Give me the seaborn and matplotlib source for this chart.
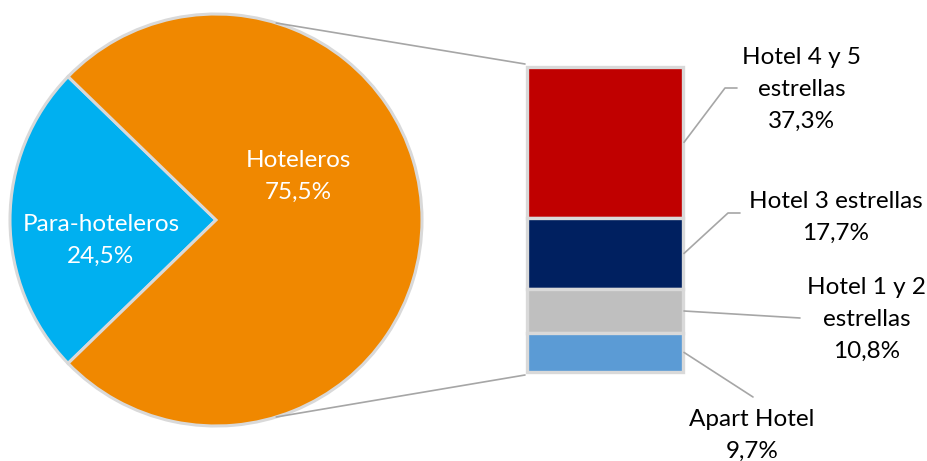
import matplotlib
matplotlib.use('Agg')
import matplotlib.pyplot as plt
import seaborn as sns
import numpy as np

# pie data
pie_labels = ['Para-hoteleros', 'Hoteleros']
pie_values = [24.5, 75.5]
pie_colors = ['#00B0F0', '#F08800']

# breakdown of Hoteleros
bar_labels = ['Hotel 4 y 5\nestrellas', 'Hotel 3 estrellas', 'Hotel 1 y 2\nestrellas', 'Apart Hotel']
bar_values = [37.3, 17.7, 10.8, 9.7]
bar_colors = ['#C00000', '#002060', '#BFBFBF', '#5B9BD5']


def pct(v):
    return f"{v:.1f}".replace('.', ',') + '%'


sns.set_style('white')
plt.rcParams['font.family'] = ['Lato', 'DejaVu Sans']

fig = plt.figure(figsize=(9.27, 4.61), dpi=100)
ax = fig.add_axes([0, 0, 1, 1])

# pie, Para-hoteleros centred on the left
cx, cy, r = 216, 220, 206
start = 180 - pie_values[0] / 100 * 360 / 2
wedges, _ = ax.pie(pie_values, colors=pie_colors, center=(cx, cy), radius=r,
                   startangle=start, counterclock=True,
                   wedgeprops=dict(edgecolor='#D9D9D9', linewidth=2.2), frame=True)
ax.set_xlim(0, 927)
ax.set_ylim(461, 0)
ax.set_aspect('equal')
ax.axis('off')

fs = 17.5
ls = 1.65
# va='baseline' -> y is the baseline of the last line
ax.text(101, 263, pie_labels[0] + '\n' + pct(pie_values[0]), color='white',
        ha='center', va='baseline', fontsize=fs, linespacing=ls)
ax.text(298, 199, pie_labels[1] + '\n' + pct(pie_values[1]), color='white',
        ha='center', va='baseline', fontsize=fs, linespacing=ls)

# stacked bar
bx, bw = 605, 156
top, total_h = 67, 305
scale = total_h / sum(bar_values)
bottoms = top + np.concatenate([[0], np.cumsum(bar_values)[:-1]]) * scale
heights = np.array(bar_values) * scale
ax.bar([bx] * len(bar_values), heights, bottom=bottoms, width=bw,
       color=bar_colors, edgecolor='#D9D9D9', linewidth=2.4)

# connector lines pie -> bar
ang = np.deg2rad(73)
ax.plot([cx + r * np.cos(ang), bx - bw / 2 - 2], [cy - r * np.sin(ang), top - 3],
        color='#A6A6A6', lw=1.2)
ax.plot([cx + r * np.cos(ang), bx - bw / 2 - 2], [cy + r * np.sin(ang), top + total_h + 3],
        color='#A6A6A6', lw=1.2)

# labels with leader lines
mids = bottoms + heights / 2
edge = bx + bw / 2 + 1
label_pos = [(802, 128), (836, 240), (867, 358), (752, 458)]
leader_ends = [[(725, 88), (737, 88)], [(728, 213), (740, 213)], [(800, 318)], [(753, 397)]]
for lab, v, m, (tx, ty), pts in zip(bar_labels, bar_values, mids, label_pos, leader_ends):
    xs = [edge] + [p[0] for p in pts]
    ys = [m] + [p[1] for p in pts]
    ax.plot(xs, ys, color='#A6A6A6', lw=1.2)
    ax.text(tx, ty, lab + '\n' + pct(v), color='black', ha='center', va='baseline',
            fontsize=fs, linespacing=ls)

fig.savefig('out.png', dpi=100)
